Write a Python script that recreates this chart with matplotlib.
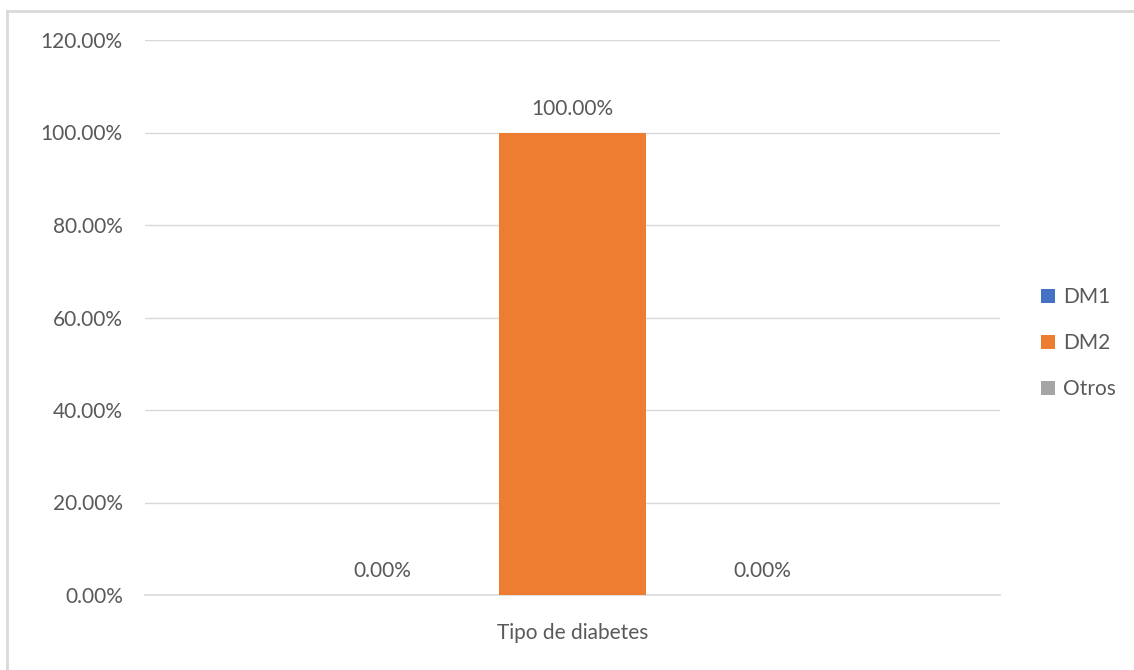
import matplotlib
matplotlib.use("Agg")
import matplotlib.pyplot as plt
from matplotlib.lines import Line2D
from matplotlib.ticker import FuncFormatter

# Distribution of diabetes type
categories = ["DM1", "DM2", "Otros"]
values = [0.0, 100.0, 0.0]
colors = ["#4472C4", "#ED7D31", "#A5A5A5"]
group_label = "Tipo de diabetes"
y_ticks = [0, 20, 40, 60, 80, 100, 120]

plt.rcParams["font.family"] = ["Lato", "DejaVu Sans"]
text_color = "#595959"
grid_color = "#D9D9D9"
fs = 15

W, H = 1134, 670
fig = plt.figure(figsize=(W / 100, H / 100), dpi=100)
ax = fig.add_axes([145 / W, 1 - 595 / H, 855 / W, 555 / H])

# Chart frame: left and top edges
fx, fy = 7 / W, 1 - 11 / H
fig.lines.append(Line2D([fx, fx], [0, fy], transform=fig.transFigure,
                        color="#D9D9D9", linewidth=2))
fig.lines.append(Line2D([fx, 1], [fy, fy], transform=fig.transFigure,
                        color="#D9D9D9", linewidth=2))

spacing = 0.222
width = 0.173
n = len(categories)
positions = [0.5 + (i - (n - 1) / 2) * spacing for i in range(n)]

for x, v, c, name in zip(positions, values, colors, categories):
    ax.bar(x, v, width=width, color=c, label=name, zorder=3)
    ax.annotate(f"{v:.2f}%", xy=(x, v), xytext=(0, 10), textcoords="offset points",
                ha="center", va="bottom", fontsize=fs, color=text_color)

ax.set_xlim(0, 1)
ax.set_ylim(0, 120)
ax.set_yticks(y_ticks)
ax.yaxis.set_major_formatter(FuncFormatter(lambda v, p: f"{v:.2f}%"))
ax.set_xticks([0.5])
ax.set_xticklabels([group_label])
ax.tick_params(axis="both", length=0, labelsize=fs, labelcolor=text_color)
ax.tick_params(axis="y", pad=16)
ax.tick_params(axis="x", pad=20)
ax.grid(axis="y", color=grid_color, linewidth=1, zorder=0)
for side in ["top", "right", "left"]:
    ax.spines[side].set_visible(False)
ax.spines["bottom"].set_color(grid_color)
ax.spines["bottom"].set_linewidth(1.2)

ax.legend(loc="center left", bbox_to_anchor=((1041 - 145) / 855, (595 - 343) / 555),
          frameon=False, fontsize=fs, labelcolor=text_color,
          handlelength=0.65, handleheight=0.65, handletextpad=0.4,
          labelspacing=1.25, borderaxespad=0, borderpad=0)

fig.savefig("out.png", dpi=100, facecolor="white")
